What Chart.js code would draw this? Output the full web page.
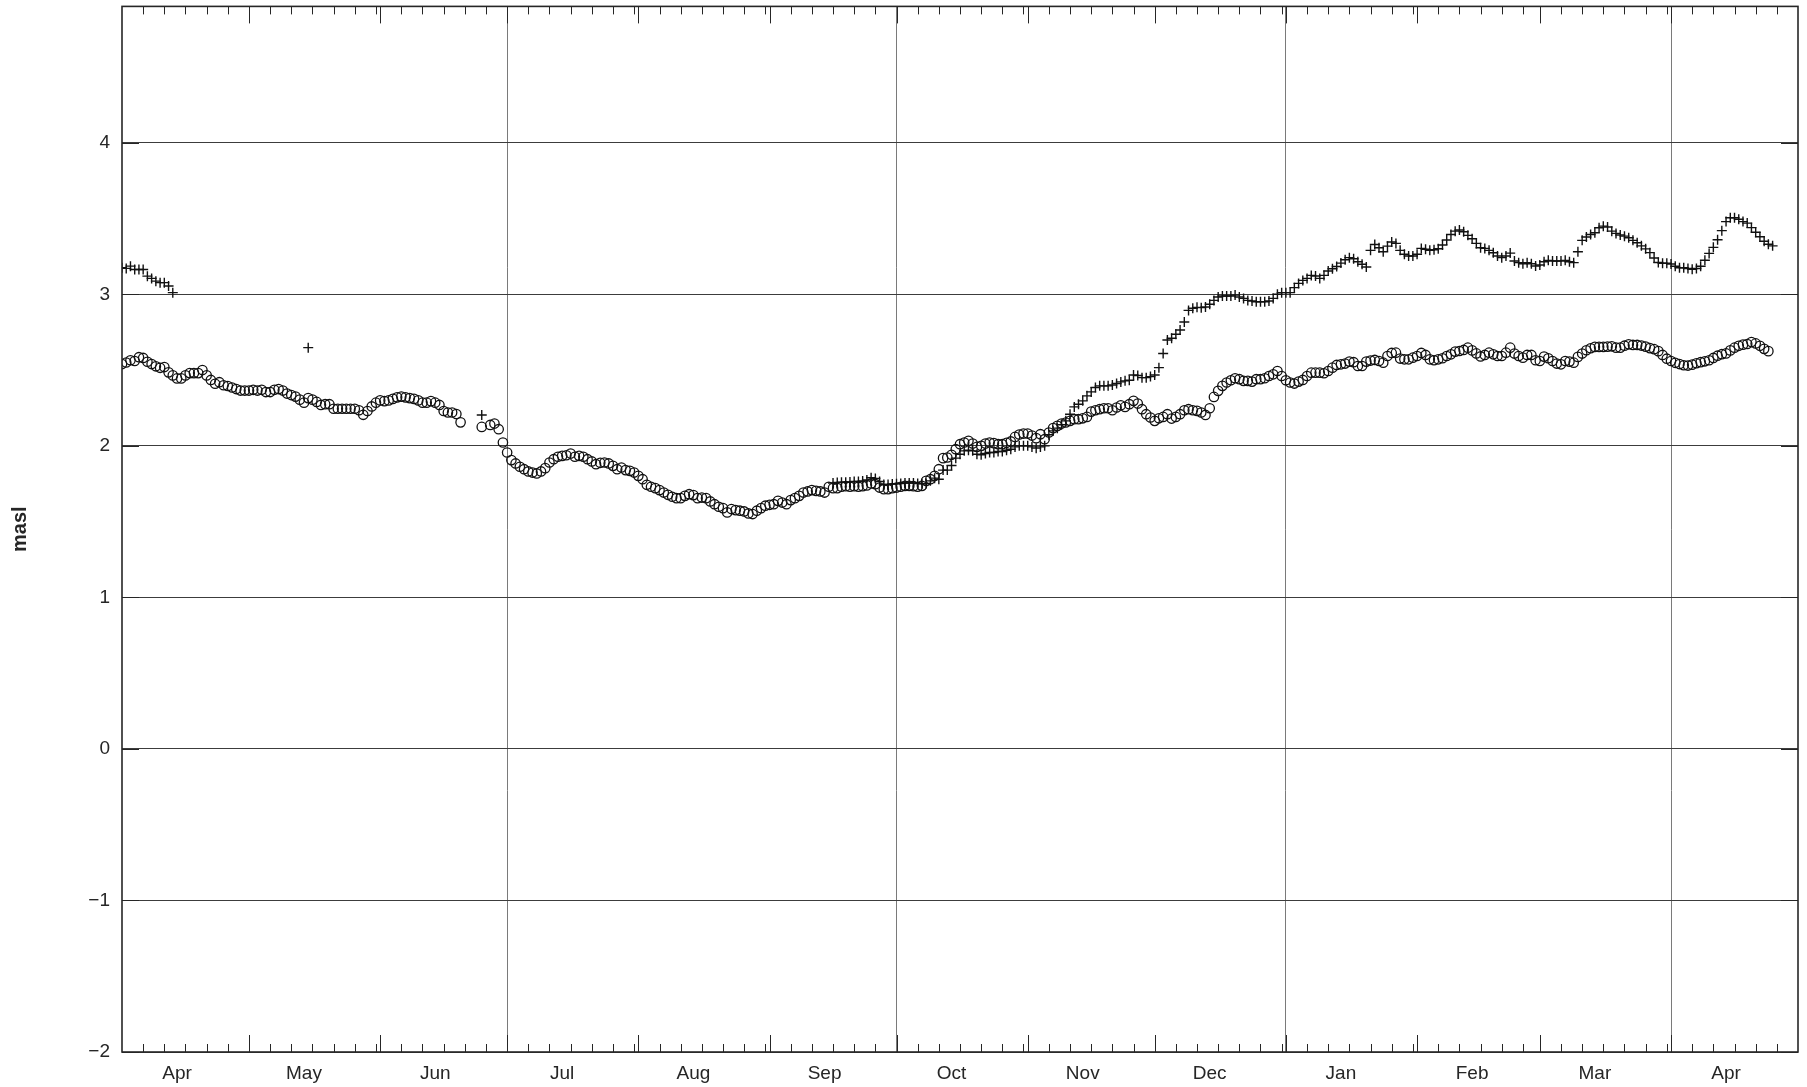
<!DOCTYPE html>
<html lang="en">
<head>
    <meta charset="UTF-8">
    <title>masl</title>
    <script src="https://cdn.jsdelivr.net/npm/chart.js"></script>
    <style>
        body { margin: 0; background: #fff; }
        canvas { display: block; }
    </style>
</head>
<body>
    <canvas id="levelChart" width="1807" height="1087"></canvas>

    <script>
        // x values are days counted from 1 Apr (Feb has 29 days)
        const monthNames = ['Apr', 'May', 'Jun', 'Jul', 'Aug', 'Sep', 'Oct', 'Nov', 'Dec', 'Jan', 'Feb', 'Mar', 'Apr'];
        const monthStarts = [0, 30, 61, 91, 122, 153, 183, 214, 244, 275, 306, 335, 366, 396];
        const quarterStarts = [91, 183, 275, 366];
        const yTicks = [-2, -1, 0, 1, 2, 3, 4];

        // circles, one value per day from day 0
        const circleLevels = [
            2.54, 2.55, 2.565, 2.56, 2.585, 2.58, 2.555, 2.54, 2.525, 2.515,
            2.52, 2.485, 2.465, 2.445, 2.445, 2.465, 2.48, 2.48, 2.48, 2.50,
            2.465, 2.435, 2.41, 2.42, 2.40, 2.395, 2.385, 2.375, 2.365, 2.365,
            2.365, 2.37, 2.365, 2.37, 2.355, 2.355, 2.37, 2.375, 2.365, 2.345,
            2.335, 2.325, 2.305, 2.285, 2.315, 2.305, 2.29, 2.27, 2.275, 2.275,
            2.245, 2.245, 2.245, 2.245, 2.245, 2.245, 2.235, 2.205, 2.23, 2.26,
            2.285, 2.30, 2.295, 2.30, 2.31, 2.32, 2.325, 2.32, 2.315, 2.31,
            2.30, 2.285, 2.285, 2.295, 2.285, 2.27, 2.23, 2.22, 2.22, 2.21,
            2.155, null, null, null, null, 2.125, null, 2.138, 2.147, 2.11,
            2.022, 1.956, 1.906, 1.884, 1.862, 1.846, 1.831, 1.824, 1.818, 1.831,
            1.853, 1.89, 1.912, 1.928, 1.934, 1.938, 1.949, 1.928, 1.934, 1.928,
            1.912, 1.897, 1.879, 1.888, 1.89, 1.884, 1.868, 1.846, 1.857, 1.84,
            1.835, 1.824, 1.802, 1.78, 1.743, 1.73, 1.721, 1.708, 1.692, 1.677,
            1.664, 1.655, 1.655, 1.67, 1.681, 1.675, 1.655, 1.659, 1.655, 1.633,
            1.615, 1.598, 1.589, 1.561, 1.583, 1.576, 1.572, 1.567, 1.554, 1.55,
            1.572, 1.589, 1.605, 1.611, 1.615, 1.637, 1.626, 1.615, 1.642, 1.655,
            1.67, 1.692, 1.699, 1.708, 1.703, 1.699, 1.692, 1.73, 1.721, 1.721,
            1.73, 1.734, 1.73, 1.734, 1.73, 1.734, 1.739, 1.752, 1.747, 1.725,
            1.714, 1.714, 1.721, 1.725, 1.73, 1.736, 1.736, 1.734, 1.73, 1.736,
            1.769, 1.78, 1.802, 1.846, 1.919, 1.923, 1.941, 1.978, 2.011, 2.022,
            2.033, 2.015, 1.993, 2.0, 2.015, 2.022, 2.018, 2.011, 2.011, 2.02,
            2.029, 2.059, 2.075, 2.081, 2.081, 2.068, 2.051, 2.077, 2.044, 2.088,
            2.117, 2.132, 2.147, 2.154, 2.165, 2.176, 2.176, 2.182, 2.191, 2.226,
            2.235, 2.242, 2.248, 2.248, 2.235, 2.253, 2.268, 2.257, 2.275, 2.297,
            2.279, 2.242, 2.209, 2.187, 2.165, 2.182, 2.191, 2.209, 2.18, 2.191,
            2.209, 2.235, 2.242, 2.235, 2.231, 2.22, 2.204, 2.248, 2.323, 2.363,
            2.396, 2.418, 2.433, 2.446, 2.44, 2.429, 2.429, 2.424, 2.44, 2.44,
            2.446, 2.461, 2.472, 2.494, 2.461, 2.433, 2.418, 2.411, 2.424, 2.435,
            2.461, 2.483, 2.483, 2.483, 2.479, 2.494, 2.516, 2.534, 2.538, 2.543,
            2.556, 2.552, 2.527, 2.527, 2.556, 2.563, 2.567, 2.56, 2.549, 2.593,
            2.613, 2.615, 2.576, 2.571, 2.571, 2.582, 2.593, 2.613, 2.6, 2.571,
            2.565, 2.571, 2.578, 2.593, 2.604, 2.622, 2.626, 2.633, 2.648, 2.63,
            2.61, 2.59, 2.6, 2.615, 2.604, 2.593, 2.593, 2.615, 2.648, 2.609,
            2.593, 2.582, 2.6, 2.6, 2.565, 2.56, 2.589, 2.578, 2.56, 2.543,
            2.538, 2.56, 2.556, 2.549, 2.587, 2.609, 2.631, 2.644, 2.653, 2.653,
            2.653, 2.655, 2.657, 2.648, 2.648, 2.661, 2.67, 2.666, 2.666, 2.662,
            2.655, 2.645, 2.638, 2.625, 2.6, 2.575, 2.56, 2.548, 2.54, 2.532,
            2.53, 2.536, 2.545, 2.552, 2.558, 2.565, 2.58, 2.595, 2.605, 2.61,
            2.63, 2.648, 2.66, 2.668, 2.672, 2.685, 2.676, 2.66, 2.64, 2.625
        ];

        // crosses: a short run at the start, two stray points, then daily from day 168
        const plusEarlyStart = 0;
        const plusEarly = [3.175, 3.171, 3.186, 3.164, 3.164, 3.164, 3.12, 3.105, 3.087, 3.077, 3.077, 3.055, 3.011];
        const plusSingleDays = [44, 85];
        const plusSingleLevels = [2.648, 2.204];
        const plusLateStart = 168;
        const plusLate = [
            1.755, 1.758, 1.76, 1.76, 1.762, 1.765, 1.765, 1.768, 1.775, 1.79, 1.785, 1.765,
            1.745, 1.745, 1.748, 1.75, 1.752, 1.755, 1.755, 1.755, 1.752, 1.75, 1.752,
            1.769, 1.787, 1.78, 1.84, 1.84, 1.87, 1.919, 1.945, 1.967,
            1.971, 1.967, 1.945, 1.941, 1.95, 1.956, 1.956, 1.963, 1.963, 1.971,
            1.978, 1.993, 2.0, 2.0, 2.0, 1.993, 1.985, 1.993, 2.0, 2.073,
            2.099, 2.117, 2.139, 2.165, 2.209, 2.257, 2.275, 2.297, 2.33, 2.356,
            2.385, 2.396, 2.396, 2.396, 2.402, 2.411, 2.422, 2.429, 2.433, 2.468,
            2.464, 2.45, 2.45, 2.457, 2.468, 2.516, 2.609, 2.699, 2.71, 2.736,
            2.765, 2.817, 2.894, 2.908, 2.914, 2.912, 2.916, 2.934, 2.96, 2.982,
            2.989, 2.989, 2.989, 2.995, 2.982, 2.973, 2.96, 2.956, 2.951, 2.951,
            2.951, 2.956, 2.973, 3.0, 3.011, 3.011, 3.011, 3.044, 3.072, 3.092,
            3.105, 3.125, 3.121, 3.105, 3.125, 3.154, 3.169, 3.184, 3.206, 3.228,
            3.242, 3.235, 3.215, 3.198, 3.18, 3.29, 3.329, 3.307, 3.281, 3.318,
            3.345, 3.336, 3.29, 3.264, 3.253, 3.253, 3.264, 3.303, 3.297, 3.29,
            3.294, 3.301, 3.325, 3.358, 3.395, 3.417, 3.424, 3.413, 3.389, 3.367,
            3.336, 3.307, 3.303, 3.29, 3.274, 3.253, 3.242, 3.253, 3.272, 3.22,
            3.209, 3.202, 3.209, 3.202, 3.187, 3.193, 3.215, 3.224, 3.22, 3.22,
            3.22, 3.224, 3.215, 3.209, 3.281, 3.356, 3.378, 3.395, 3.406, 3.439,
            3.45, 3.444, 3.417, 3.402, 3.391, 3.384, 3.373, 3.356, 3.34, 3.32,
            3.3, 3.275, 3.24, 3.21, 3.205, 3.205, 3.2, 3.185, 3.175, 3.175,
            3.17, 3.165, 3.17, 3.185, 3.225, 3.27, 3.31, 3.36, 3.42, 3.48,
            3.505, 3.505, 3.495, 3.48, 3.47, 3.44, 3.41, 3.38, 3.35, 3.33, 3.32
        ];

        const xMax = 396;
        const yMin = -2;
        const yMax = 4.9;
        const textColor = '#262626';
        const fontFamily = '"Liberation Sans", Arial, Helvetica, sans-serif';

        function toPoints(start, values) {
            return values
                .map((v, i) => ({ x: start + i, y: v }))
                .filter(p => p.y !== null);
        }

        const circlePoints = toPoints(0, circleLevels);
        const plusPoints = toPoints(plusEarlyStart, plusEarly)
            .concat(plusSingleDays.map((d, i) => ({ x: d, y: plusSingleLevels[i] })))
            .concat(toPoints(plusLateStart, plusLate));

        // month ticks (long), 5-day ticks (short), y ticks and the box, all pointing inwards
        const axisTicks = {
            id: 'axisTicks',
            afterDatasetsDraw(chart) {
                const { ctx, chartArea } = chart;
                const xs = chart.scales.x;
                const ys = chart.scales.y;
                const { left, right, top, bottom } = chartArea;
                ctx.save();
                ctx.strokeStyle = textColor;
                ctx.lineWidth = 1;
                ctx.beginPath();
                for (let m = 0; m < monthStarts.length - 1; m++) {
                    const start = monthStarts[m];
                    const next = monthStarts[m + 1];
                    if (m > 0) {
                        const px = Math.round(xs.getPixelForValue(start)) + 0.5;
                        ctx.moveTo(px, bottom); ctx.lineTo(px, bottom - 17);
                        ctx.moveTo(px, top); ctx.lineTo(px, top + 17);
                    }
                    for (let d = start + 5; d < next; d += 5) {
                        const px = Math.round(xs.getPixelForValue(d)) + 0.5;
                        ctx.moveTo(px, bottom); ctx.lineTo(px, bottom - 8);
                        ctx.moveTo(px, top); ctx.lineTo(px, top + 8);
                    }
                }
                yTicks.forEach(v => {
                    const py = Math.round(ys.getPixelForValue(v)) + 0.5;
                    ctx.moveTo(left, py); ctx.lineTo(left + 17, py);
                    ctx.moveTo(right, py); ctx.lineTo(right - 17, py);
                });
                ctx.stroke();
                ctx.lineWidth = 1.6;
                ctx.strokeRect(left, top, right - left, bottom - top);
                ctx.restore();
            }
        };

        new Chart(document.getElementById('levelChart'), {
            type: 'scatter',
            data: {
                datasets: [
                    {
                        label: 'plus',
                        data: plusPoints,
                        pointStyle: 'cross',
                        pointRadius: 5,
                        borderWidth: 1.4,
                        borderColor: '#111',
                        backgroundColor: '#111',
                        showLine: false
                    },
                    {
                        label: 'circle',
                        data: circlePoints,
                        pointStyle: 'circle',
                        pointRadius: 4.7,
                        borderWidth: 1.3,
                        borderColor: '#111',
                        backgroundColor: 'rgba(0,0,0,0)',
                        showLine: false
                    }
                ]
            },
            options: {
                responsive: false,
                animation: false,
                layout: { padding: { left: 0, top: 6, right: 9, bottom: 0 } },
                plugins: {
                    legend: { display: false },
                    tooltip: { enabled: false }
                },
                scales: {
                    x: {
                        type: 'linear',
                        position: 'bottom',
                        min: 0,
                        max: xMax,
                        grid: { display: false },
                        border: { display: false },
                        afterBuildTicks: scale => {
                            scale.ticks = monthNames.map((n, i) => ({ value: monthStarts[i] + 13 }));
                        },
                        afterFit: scale => {
                            scale.height = 35;
                            scale.paddingLeft = 0;
                            scale.paddingRight = 0;
                        },
                        ticks: {
                            autoSkip: false,
                            maxRotation: 0,
                            padding: 2,
                            color: textColor,
                            font: { family: fontFamily, size: 19 },
                            callback: (v, i) => monthNames[i]
                        }
                    },
                    xq: {
                        type: 'linear',
                        position: 'bottom',
                        min: 0,
                        max: xMax,
                        afterBuildTicks: scale => {
                            scale.ticks = quarterStarts.map(d => ({ value: d }));
                        },
                        afterFit: scale => {
                            scale.height = 0;
                            scale.paddingLeft = 0;
                            scale.paddingRight = 0;
                        },
                        grid: { color: '#7a7a7a', lineWidth: 1, drawTicks: false },
                        border: { display: false },
                        ticks: { display: false }
                    },
                    y: {
                        type: 'linear',
                        min: yMin,
                        max: yMax,
                        afterBuildTicks: scale => {
                            scale.ticks = yTicks.map(v => ({ value: v }));
                        },
                        afterFit: scale => {
                            scale.width = 122;
                            scale.paddingTop = 0;
                            scale.paddingBottom = 0;
                        },
                        grid: { color: '#3c3c3c', lineWidth: 1, drawTicks: false },
                        border: { display: false },
                        ticks: {
                            padding: 12,
                            color: textColor,
                            font: { family: fontFamily, size: 19 },
                            callback: v => (v < 0 ? '\u2212' + Math.abs(v) : String(v))
                        },
                        title: {
                            display: true,
                            text: 'masl',
                            color: textColor,
                            font: { family: fontFamily, size: 20, weight: 'bold' },
                            padding: { top: 8, bottom: 0 }
                        }
                    }
                }
            },
            plugins: [axisTicks]
        });
    </script>
</body>
</html>
